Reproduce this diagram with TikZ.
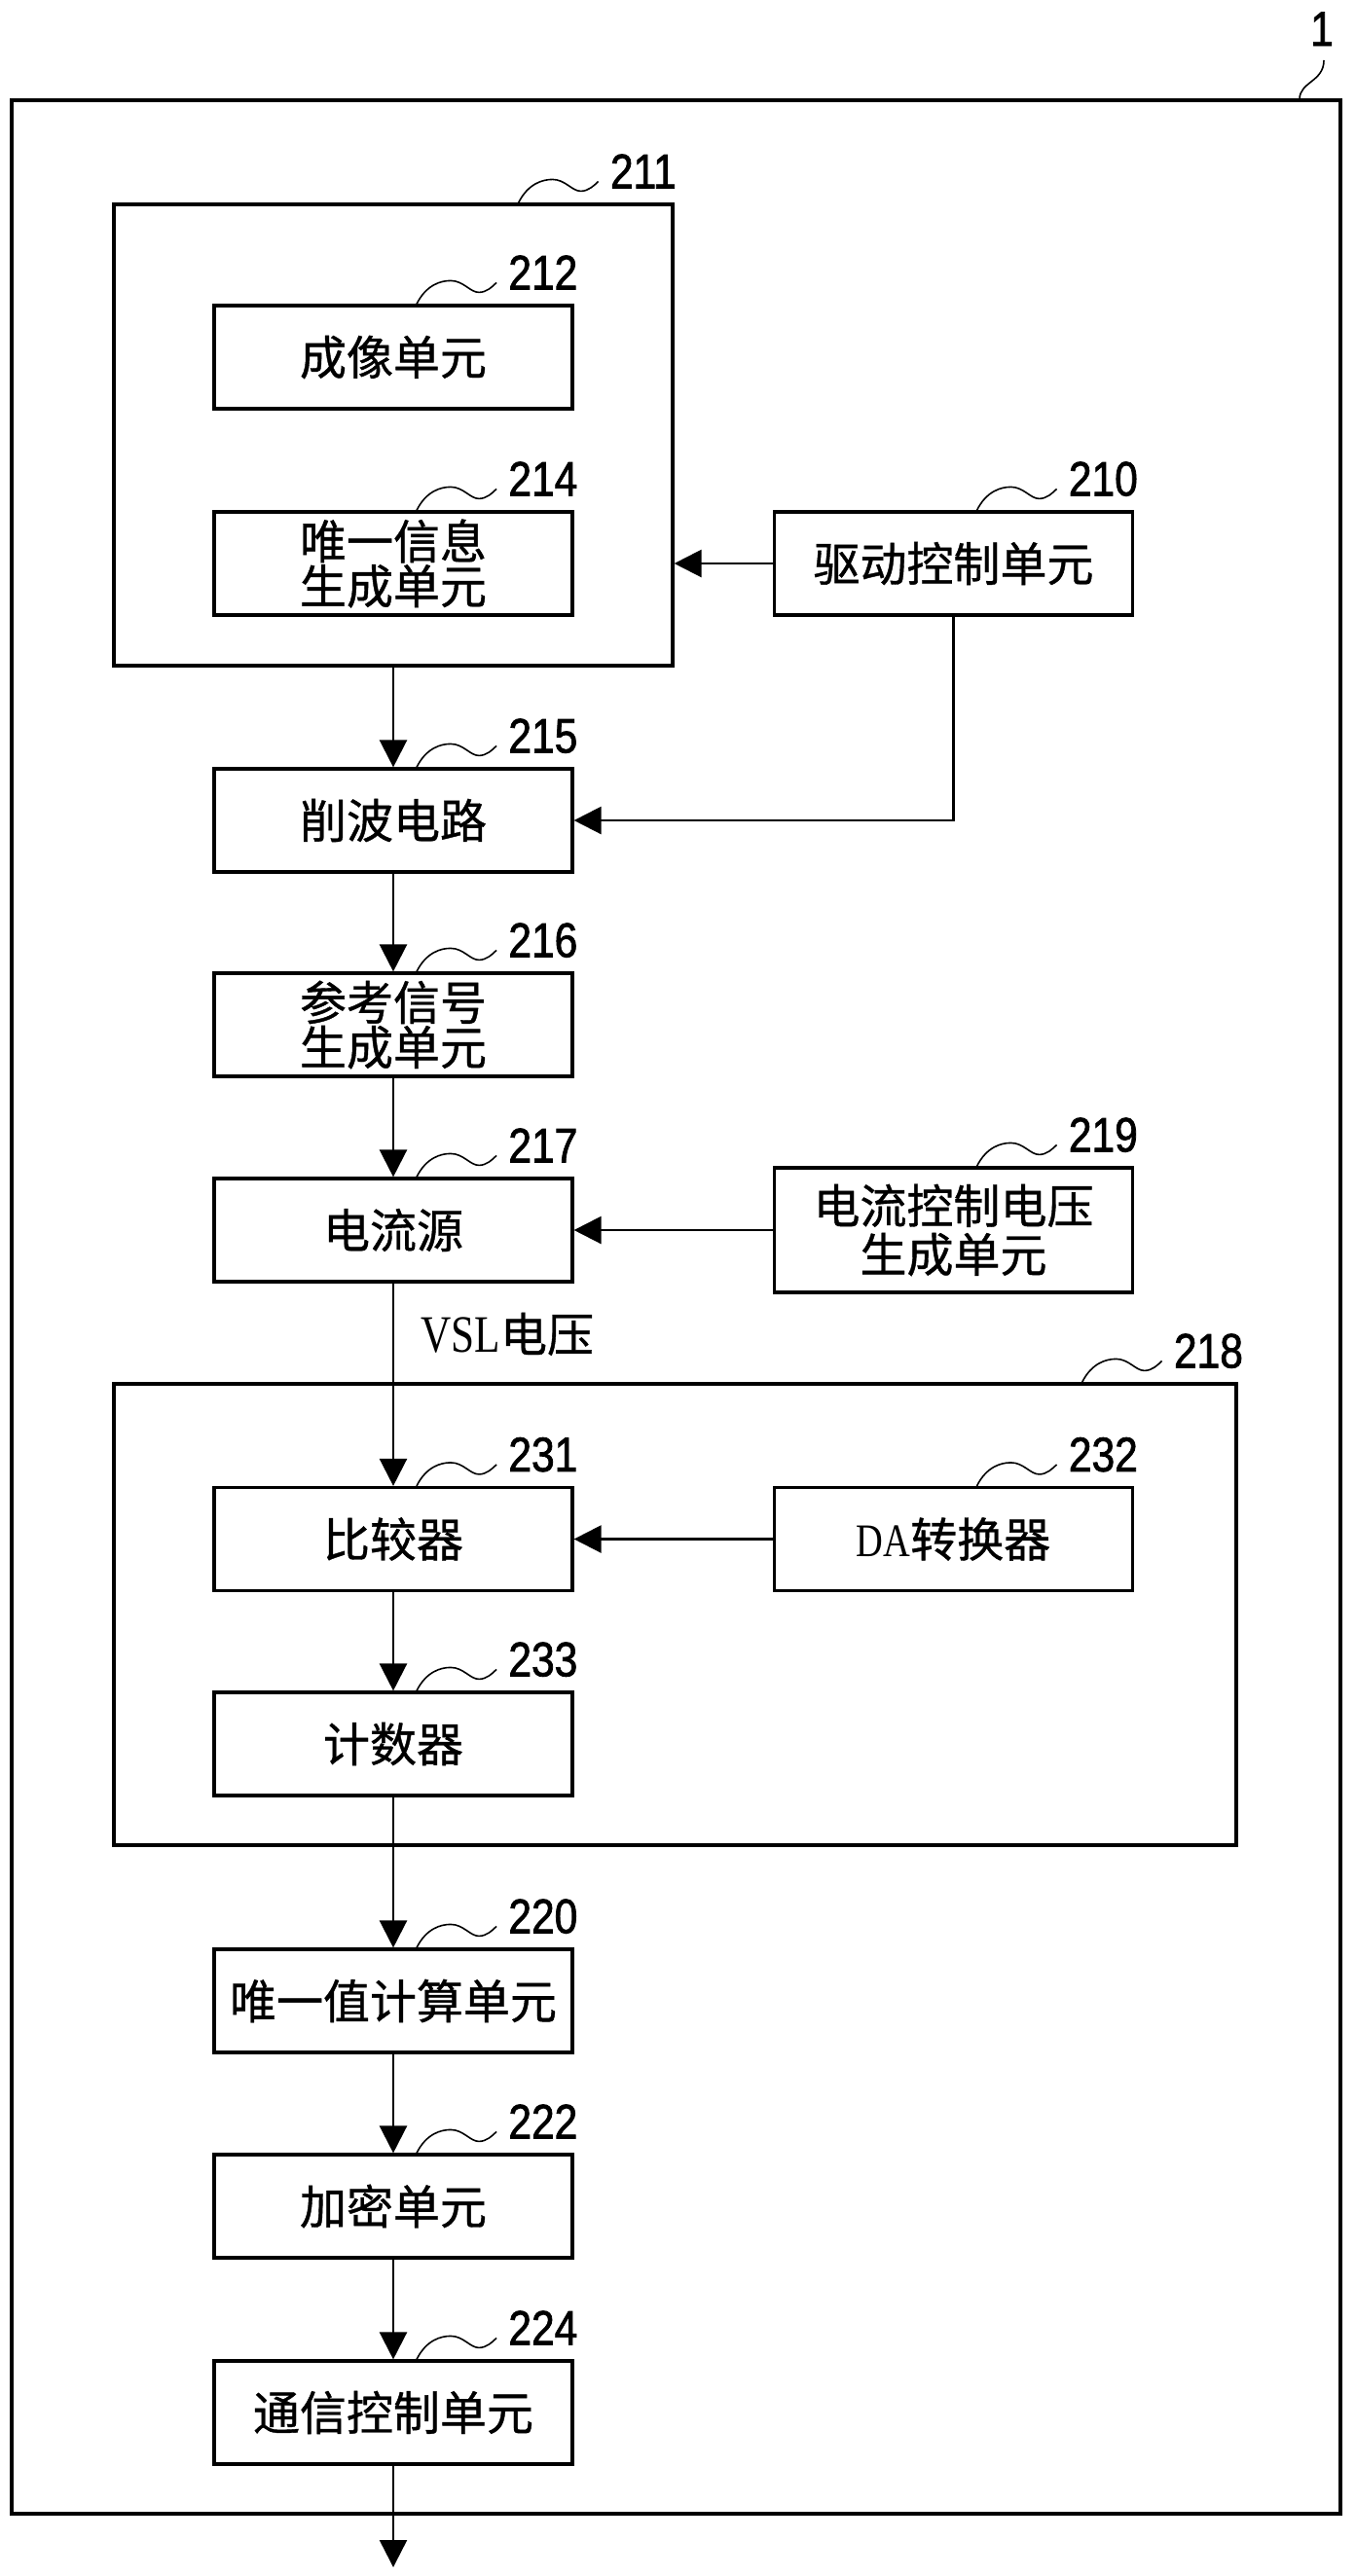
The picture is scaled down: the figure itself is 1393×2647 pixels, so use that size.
\documentclass[tikz,border=0pt]{standalone}
\usepackage{fontspec}
\newfontfamily\cjk[FakeBold=0.8]{Noto Sans CJK SC}
\newfontfamily\numfont[FakeStretch=0.85,FakeBold=1.5]{Liberation Sans}
\newfontfamily\latinfont[FakeStretch=0.8]{Liberation Serif}
\usetikzlibrary{arrows.meta}

\newcommand\refmark[3]{%
  \draw[leader] #1 .. controls +(10,20) and +(-10,0) .. ++(35,24)
    .. controls +(13,0) and +(-9,0) .. ++(29,-12)
    .. controls +(8,0) and +(-4,-4) .. ++(18,10) coordinate (#2e);
  \node[num,anchor=base west] (#2) at ([shift={(12,-7)}]#2e) {#3};}

\begin{document}
\begin{tikzpicture}[x=0.5pt,y=0.5pt,
  unit/.style={draw,line width=1.6pt,minimum width=184pt,minimum height=53pt,
    inner sep=0pt,align=center,font=\cjk\fontsize{24}{23}\selectfont},
  frame/.style={draw,line width=1.6pt,inner sep=0pt},
  flow/.style={line width=1.2pt,-{Triangle[length=14pt,width=14pt]}},
  leader/.style={line width=0.8pt},
  num/.style={inner sep=0pt,font=\numfont\fontsize{25}{25}\selectfont}]

\useasboundingbox (0,0) rectangle (1393,-2647);

\node[frame,line width=1.7pt,minimum width=682.5pt,minimum height=1240pt] (B1) at (694.5,-1343) {};
\node[frame,minimum width=287pt,minimum height=237pt] (B211) at (404,-447) {};
\node[frame,minimum width=576.5pt,minimum height=237pt] (B218) at (693.5,-1659) {};

\node[unit] (B212) at (404,-367) {成像单元};
\node[unit] (B214) at (404,-579) {唯一信息\\生成单元};
\node[unit] (B210) at (979.5,-579) {驱动控制单元};
\node[unit] (B215) at (404,-843) {削波电路};
\node[unit] (B216) at (404,-1053) {参考信号\\生成单元};
\node[unit] (B217) at (404,-1264) {电流源};
\node[unit,minimum height=64pt] (B219) at (979.5,-1264) {电流控制电压\\[2pt]生成单元};
\node[unit] (B231) at (404,-1581.5) {比较器};
\node[unit] (B232) at (979.5,-1581.5) {{\latinfont DA}转换器};
\node[unit] (B233) at (404,-1792) {计数器};
\node[unit] (B220) at (404,-2056) {唯一值计算单元};
\node[unit] (B222) at (404,-2267) {加密单元};
\node[unit] (B224) at (404,-2479) {通信控制单元};
\coordinate (out) at (404,-2638);

\node[anchor=base west,inner sep=0pt,font=\cjk\fontsize{24}{24}\selectfont] (vsl) at (432,-1389) {{\latinfont\fontsize{27}{27}\selectfont VSL}电压};

\draw[flow] (B210.west) -- (B210.west -| B211.east);
\draw[flow] (B211.south) -- (B215.north);
\draw[flow] (B210.south) |- (B215.east);
\draw[flow] (B215.south) -- (B216.north);
\draw[flow] (B216.south) -- (B217.north);
\draw[flow] (B219.west) -- (B217.east);
\draw[flow] (B217.south) -- (B231.north);
\draw[flow] (B232.west) -- (B231.east);
\draw[flow] (B231.south) -- (B233.north);
\draw[flow] (B233.south) -- (B220.north);
\draw[flow] (B220.south) -- (B222.north);
\draw[flow] (B222.south) -- (B224.north);
\draw[flow] (B224.south) -- (out);

\refmark{([xshift=-80pt]B211.north east)}{L211}{211}
\refmark{([xshift=-80pt]B218.north east)}{L218}{218}
\foreach \b in {212,214,215,216,217,231,233,220,222,224,210,219,232}
  {\refmark{([xshift=12pt]B\b.north)}{L\b}{\b}}

\draw[leader] (1335,-102) .. controls (1335,-84) and (1360,-84) .. (1360,-62);
\node[num,anchor=base] (L1) at (1358,-47) {1};

\end{tikzpicture}
\end{document}
